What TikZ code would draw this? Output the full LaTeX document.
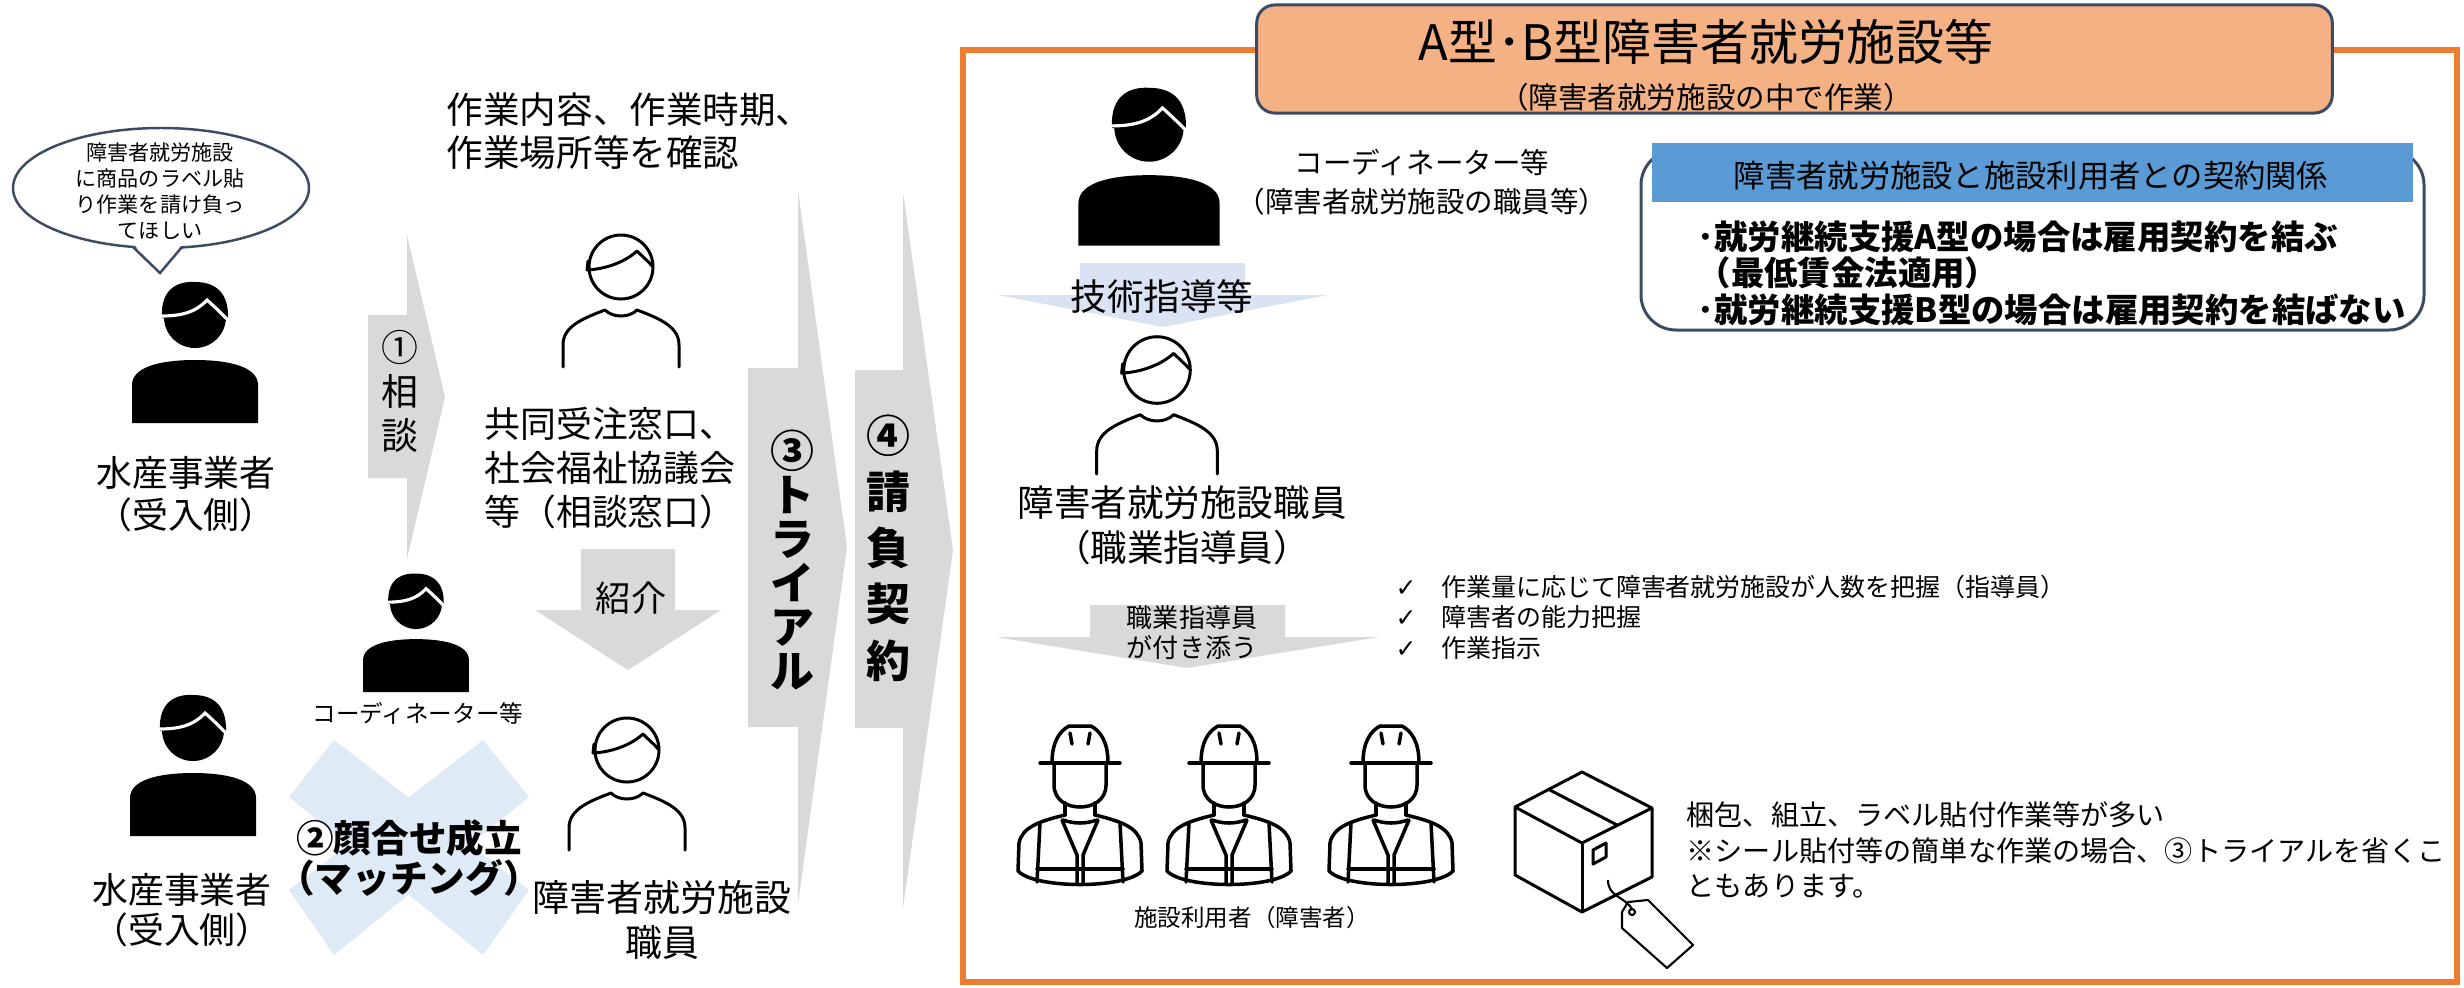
\documentclass[tikz,border=0pt]{standalone}
\usepackage{fontspec}
\setmainfont{Noto Sans CJK JP}
\newfontfamily\checkfont{DejaVu Sans}
\usepackage{tikz}
\definecolor{frameorange}{HTML}{ED7D31}
\definecolor{headpeach}{HTML}{F4B183}
\definecolor{slate}{HTML}{3A4B63}
\definecolor{barblue}{HTML}{5B9BD5}
\definecolor{arrowgray}{HTML}{D9D9D9}
\definecolor{paleblue}{HTML}{DAE3F3}
\definecolor{crossblue}{HTML}{DEEAF6}
\newcommand{\fsz}[2]{\fontsize{#1pt}{#2pt}\selectfont}
\tikzset{
  lbl/.style={align=center, inner sep=0pt},
  lbll/.style={align=left, inner sep=0pt, anchor=west},
  bigarrow/.style={fill=arrowgray},
  iconline/.style={line width=0.85pt, line cap=round, line join=round},
  personfill/.pic={
    \fill (0,0) circle (31);
    \fill (-33,1) .. controls (-35,-30) and (-15,-36) .. (0,-35) .. controls (20,-35) and (34,-25) .. (33,2) -- cycle;
    \draw[white, line width=0.9pt] (-34,-1) .. controls (-15,-1) and (0,-4) .. (12,-17) .. controls (20,-10) and (28,-2) .. (34,4);
    \fill (-63,106) -- (-63,68) .. controls (-63,50) and (-35,43) .. (0,43) .. controls (35,43) and (63,50) .. (63,68) -- (63,106) -- cycle;
  },
  personline/.pic={
    \draw (0,0) circle (32);
    \draw (-34,3) -- (-33,-6);
    \draw (-34,3) .. controls (-15,2) and (4,-5) .. (16,-16) .. controls (23,-9) and (29,-4) .. (31,-1);
    \draw (-58,100) -- (-58,78) .. controls (-58,60) and (-40,52) .. (-16,43) .. controls (-8,51) and (8,51) .. (16,43) .. controls (40,52) and (58,60) .. (58,78) -- (58,100);
  },
  worker/.pic={
    \draw (-40,0) -- (40,0);
    \draw (-28,0) .. controls (-28,-22) and (-20,-32) .. (-11,-37) -- (11,-37) .. controls (20,-32) and (28,-22) .. (28,0);
    \draw (-10,-30) -- (-8,-19) (10,-30) -- (8,-19);
    \draw (-26,2) -- (-26,22) .. controls (-26,37) and (-13,44) .. (0,44) .. controls (13,44) and (26,37) .. (26,22) -- (26,2);
    \draw (-15,40) -- (-15,52) (15,40) -- (15,52);
    \draw (-17,57) .. controls (-5,61) and (5,61) .. (17,57);
    \draw (-15,52) .. controls (-40,58) and (-58,64) .. (-61,80) -- (-62,108) .. controls (-45,126) and (45,126) .. (62,108) -- (61,80) .. controls (58,64) and (40,58) .. (15,52);
    \draw (-40,60) -- (-43,119) (40,60) -- (43,119);
    \draw (-18,57) -- (-3,92) -- (-3,121) (18,57) -- (3,92) -- (3,121);
    \draw (-43,106) -- (43,106);
  }
}

\begin{document}
\begin{tikzpicture}[x=0.01cm, y=-0.01cm]
  \useasboundingbox (0,0) rectangle (2464,987);

  % left side: request, consultation, matching
  \draw[slate, line width=0.7pt, fill=white] (161,188) ellipse [x radius=148, y radius=60];
  \fill[white] (128,238) -- (160,273) -- (187,238) -- cycle;
  \draw[slate, line width=0.7pt] (133,247) -- (160,273) -- (182,247);
  \node[lbl, font=\fsz{6}{7.4}] (request) at (160,191) {障害者就労施設\\に商品のラベル貼\\り作業を請け負っ\\てほしい};
  \pic at (195,317) {personfill};
  \node[lbl, font=\fsz{10.2}{12}] (owner) at (186,494) {水産事業者\\（受入側）};

  \fill[bigarrow] (368,315) -- (407,315) -- (407,235) -- (445,397) -- (407,559) -- (407,478) -- (368,478) -- cycle;
  \node[lbl, font=\fsz{10.5}{12.5}] (consult) at (400,391) {①\\相\\談};

  \node[lbll, font=\fsz{10.4}{12.2}] (confirm) at (446,131) {作業内容、作業時期、\\作業場所等を確認};
  \pic[iconline] at (621,267) {personline};
  \node[lbl, font=\fsz{10.2}{12.5}] (window) at (610,468) {共同受注窓口、\\社会福祉協議会\\等（相談窓口）};

  \fill[bigarrow] (581,549) -- (675,549) -- (675,610) -- (721,610) -- (628,670) -- (535,610) -- (581,610) -- cycle;
  \node[lbl, font=\fsz{10}{12}] (intro) at (631,598) {紹介};

  \pic[scale=0.84] at (416,603) {personfill};
  \node[lbl, font=\fsz{6.7}{8}] (coordleft) at (418,713) {コーディネーター等};

  \fill[crossblue] (289,797) -- (334,740) -- (529,890) -- (483,955) -- cycle;
  \fill[crossblue] (483,740) -- (529,797) -- (334,955) -- (289,890) -- cycle;
  \node[lbl, font=\bfseries\fsz{10.7}{10.4}] (matching) at (409,858) {②顔合せ成立\\（マッチング）};

  \pic at (193,730) {personfill};
  \node[lbl, font=\fsz{10.2}{11.4}] (owner2) at (182,910) {水産事業者\\（受入側）};

  \pic[iconline] at (627,750) {personline};
  \node[lbl, font=\fsz{10.5}{12.8}] (staff) at (662,920) {障害者就労施設\\職員};

  % trial and contract
  \fill[bigarrow] (748,368) -- (798,368) -- (798,190) -- (847,547) -- (798,904) -- (798,727) -- (748,727) -- cycle;
  \node[lbl, font=\bfseries\fsz{12.5}{12.5}] (trial) at (792,560) {③\\ト\\ラ\\イ\\ア\\ル};
  \fill[bigarrow] (855,370) -- (903,370) -- (903,192) -- (953,550) -- (903,908) -- (903,728) -- (855,728) -- cycle;
  \node[lbl, font=\bfseries\fsz{12.5}{16}] (contract) at (888,548) {④\\請\\負\\契\\約};

  % right side: the facility
  \draw[frameorange, line width=1.7pt] (963,50) rectangle (2457,982);
  \node[draw=slate, fill=headpeach, line width=0.85pt, rounded corners=0.18cm, minimum width=10.75cm, minimum height=1.08cm] (header) at (1794.5,59) {};
  \node[lbl, font=\fsz{13.9}{16}] (title) at (1706,42) {A型･B型障害者就労施設等};
  \node[lbl, font=\fsz{8.4}{10}] (subtitle) at (1706,97) {（障害者就労施設の中で作業）};

  \pic[scale=1.12] at (1149,127) {personfill};
  \node[lbl, font=\fsz{8.1}{11.1}] (coordright) at (1422,182) {コーディネーター等\\（障害者就労施設の職員等）};

  \fill[paleblue] (1080,263) -- (1245,263) -- (1245,295) -- (1328,295) -- (1163,327) -- (998,295) -- (1080,295) -- cycle;
  \node[lbl, font=\fsz{10.4}{12}] (guidance) at (1162,297) {技術指導等};

  \draw[slate, line width=0.85pt, fill=white, rounded corners=0.35cm] (1641,150) rectangle (2424,330);
  \fill[barblue] (1652,143) rectangle (2413,202);
  \node[lbl, font=\fsz{8.9}{10}] (relation) at (2031,176) {障害者就労施設と施設利用者との契約関係};
  \node[lbll, font=\bfseries\fsz{9.5}{10.4}] (relationlist) at (1697,273) {･就労継続支援A型の場合は雇用契約を結ぶ\\（最低賃金法適用）\\･就労継続支援B型の場合は雇用契約を結ばない};

  \pic[iconline, scale=1.04] at (1157,370) {personline};
  \node[lbl, font=\fsz{10.4}{12.8}] (instructor) at (1182,525) {障害者就労施設職員\\（職業指導員）};

  \fill[bigarrow] (1090,605) -- (1285,605) -- (1285,637) -- (1379,637) -- (1187,668) -- (996,637) -- (1090,637) -- cycle;
  \node[lbl, font=\fsz{7.4}{8.5}] (escort) at (1192,633) {職業指導員\\が付き添う};
  \node[lbll, font=\fsz{7.1}{8.7}] (duties) at (1395,617) {{\checkfont ✓}\hspace{7pt}作業量に応じて障害者就労施設が人数を把握（指導員）\\{\checkfont ✓}\hspace{7pt}障害者の能力把握\\{\checkfont ✓}\hspace{7pt}作業指示};

  \foreach \wx in {1080,1229,1391}
    \pic[line width=1pt, line cap=round, line join=round] at (\wx,763) {worker};
  \node[lbl, font=\fsz{6.7}{8}] (users) at (1252,918) {施設利用者（障害者）};

  % parcel with a tag
  \begin{scope}[line width=0.85pt, line join=round]
    \draw (1582,772) -- (1652,808) -- (1652,877) -- (1582,912) -- (1515,875) -- (1515,807) -- cycle;
    \draw (1515,807) -- (1582,843) -- (1652,808);
    \draw (1582,843) -- (1582,912);
    \draw (1548,789) -- (1617,825);
    \draw (1593,850) -- (1606,843) -- (1606,857) -- (1593,864) -- cycle;
    \draw[line width=0.6pt] (1608,880) .. controls (1608,897) and (1624,896) .. (1632,909);
    \draw[line width=0.6pt] (1622,912) -- (1628,902) -- (1648,900) -- (1693,945) -- (1667,968) -- (1622,928) -- cycle;
    \draw[line width=0.6pt] (1632,912) circle (3);
  \end{scope}
  \node[lbll, font=\fsz{8}{10}] (tasks) at (1686,850) {梱包、組立、ラベル貼付作業等が多い\\※シール貼付等の簡単な作業の場合、③トライアルを省くこ\\ともあります。};
\end{tikzpicture}
\end{document}
